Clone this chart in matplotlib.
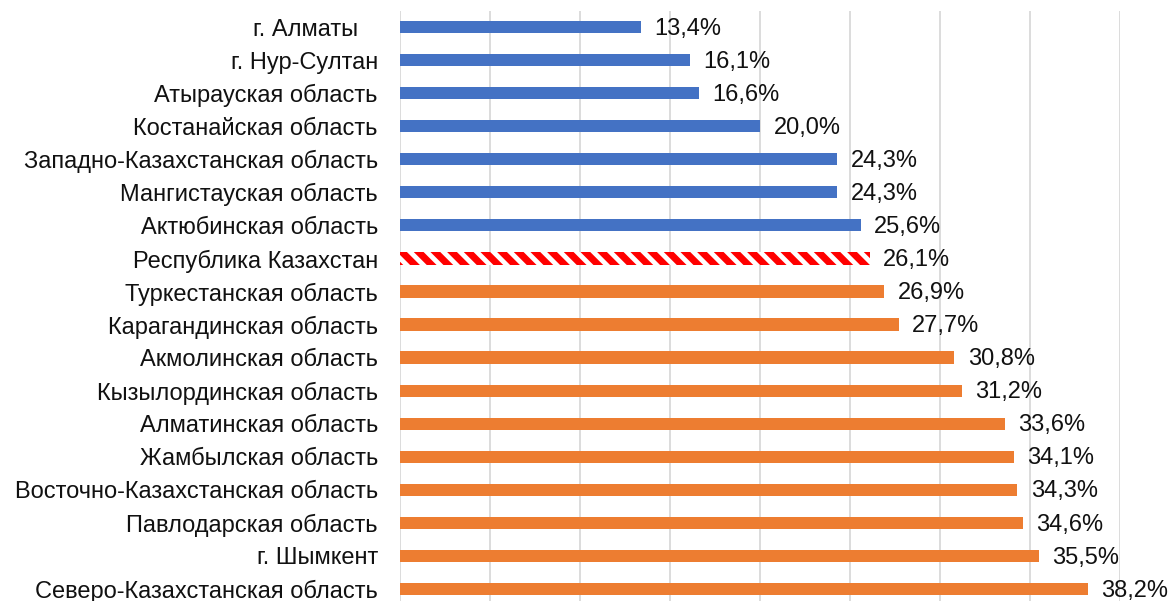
import matplotlib.pyplot as plt
import numpy as np

plt.rcParams['font.family'] = ['Liberation Sans', 'DejaVu Sans']
plt.rcParams['hatch.linewidth'] = 5.0

# data, top to bottom
regions = [
    "г. Алматы   ",
    "г. Нур-Султан",
    "Атырауская область",
    "Костанайская область",
    "Западно-Казахстанская область",
    "Мангистауская область",
    "Актюбинская область",
    "Республика Казахстан",
    "Туркестанская область",
    "Карагандинская область",
    "Акмолинская область",
    "Кызылординская область",
    "Алматинская область",
    "Жамбылская область",
    "Восточно-Казахстанская область",
    "Павлодарская область",
    "г. Шымкент",
    "Северо-Казахстанская область",
]
values = [13.4, 16.1, 16.6, 20.0, 24.3, 24.3, 25.6, 26.1, 26.9, 27.7,
          30.8, 31.2, 33.6, 34.1, 34.3, 34.6, 35.5, 38.2]
country = "Республика Казахстан"
country_value = 26.1

BLUE = "#4472C4"
ORANGE = "#ED7D31"
RED = "#FF0000"

fig = plt.figure(figsize=(11.75, 6.01), dpi=100)
ax = fig.add_axes([400 / 1175, -0.0075, 720 / 1175, 595 / 601])

y = np.arange(len(regions))
#---------------------------------------------------------------------------
for i, (name, v) in enumerate(zip(regions, values)):
    if name == country:
        ax.barh(i, v, height=0.37, color="white", edgecolor=RED,
                hatch="\\\\", linewidth=0, zorder=3)
    else:
        c = BLUE if v < country_value else ORANGE
        ax.barh(i, v, height=0.37, color=c, zorder=3)
    ax.text(v + 0.75, i + 0.05, f"{v:.1f}%".replace(".", ","), va="center",
            ha="left", fontsize=17, color="#111111", clip_on=False)

ax.set_xlim(0, 40)
ax.set_ylim(len(regions) - 0.5, -0.5)
ax.set_xticks(np.arange(0, 41, 5))
ax.set_xticklabels([])
ax.set_yticks(y)
ax.set_yticklabels(regions, fontsize=17, color="#111111")
ax.tick_params(axis="y", length=0, pad=16)
ax.tick_params(axis="x", length=0)
ax.grid(axis="x", color="#D9D9D9", linewidth=1.3, zorder=0)
ax.set_axisbelow(True)
for s in ax.spines.values():
    s.set_visible(False)

fig.savefig("out.png", dpi=100)
